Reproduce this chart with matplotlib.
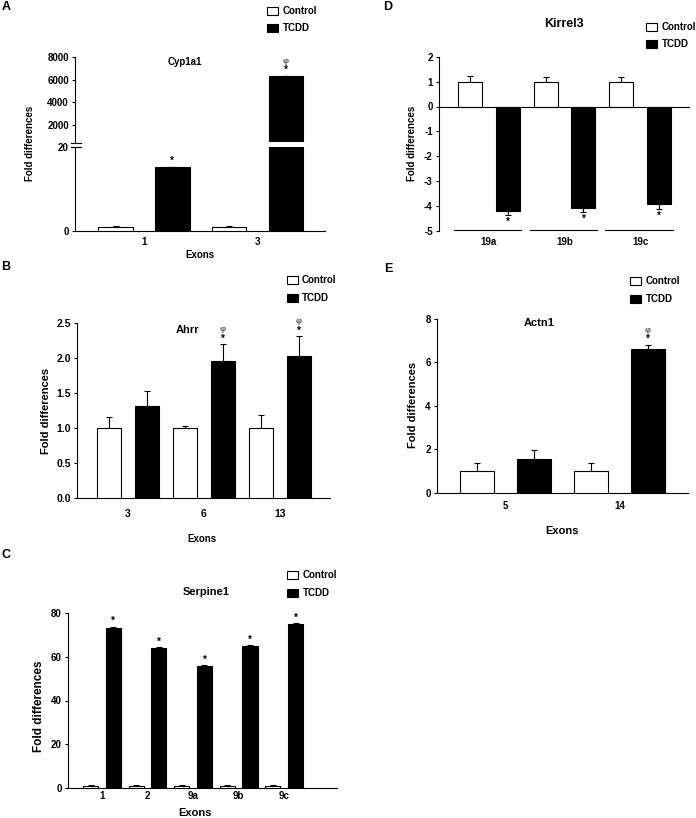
import matplotlib
matplotlib.use('Agg')
import matplotlib.pyplot as plt
from matplotlib.patches import Rectangle
from matplotlib.lines import Line2D
import numpy as np

plt.rcParams['font.family'] = ['Liberation Sans', 'DejaVu Sans']
plt.rcParams['font.weight'] = 'bold'

# ---------------- data ----------------
series = ['Control', 'TCDD']

cyp_exons = ['1', '3']
cyp_control = [1.0, 1.0]
cyp_control_err = [0.1, 0.1]
cyp_tcdd = [15.2, 6300.0]
cyp_tcdd_err = [0.15, 40.0]
cyp_marks = ['*', 'φ*']

ahrr_exons = ['3', '6', '13']
ahrr_control = [1.0, 1.0, 1.0]
ahrr_control_err = [0.16, 0.02, 0.18]
ahrr_tcdd = [1.31, 1.95, 2.02]
ahrr_tcdd_err = [0.21, 0.24, 0.29]
ahrr_marks = ['', 'φ*', 'φ*']

serp_exons = ['1', '2', '9a', '9b', '9c']
serp_control = [1.0, 1.0, 1.0, 1.0, 1.0]
serp_control_err = [0.3, 0.2, 0.2, 0.2, 0.2]
serp_tcdd = [73.2, 64.0, 55.8, 65.0, 75.0]
serp_tcdd_err = [0.6, 0.5, 0.5, 0.5, 0.4]
serp_marks = ['*', '*', '*', '*', '*']

kir_exons = ['19a', '19b', '19c']
kir_control = [1.0, 1.0, 1.0]
kir_control_err = [0.22, 0.17, 0.17]
kir_tcdd = [-4.2, -4.08, -3.92]
kir_tcdd_err = [0.15, 0.17, 0.18]
kir_marks = ['*', '*', '*']

actn_exons = ['5', '14']
actn_control = [1.0, 1.0]
actn_control_err = [0.37, 0.35]
actn_tcdd = [1.57, 6.63]
actn_tcdd_err = [0.4, 0.18]
actn_marks = ['', 'φ*']

# ---------------- layout helpers ----------------
W, H = 696, 818
fig = plt.figure(figsize=(6.96, 8.18), dpi=100)


def box(x0, y0, x1, y1):
    return [x0 / W, 1 - y1 / H, (x1 - x0) / W, (y1 - y0) / H]


def fx(x):
    return x / W


def fy(y):
    return 1 - y / H


def style_axes(ax, tick_fs, xpad):
    for s in ['top', 'right']:
        ax.spines[s].set_visible(False)
    for s in ['left', 'bottom']:
        ax.spines[s].set_linewidth(0.8)
    ax.tick_params(axis='y', direction='out', length=2.5, width=0.8,
                   labelsize=tick_fs, pad=2)
    ax.tick_params(axis='x', length=0, labelsize=tick_fs, pad=xpad)


def draw_bars(ax, ctrl, ctrl_err, tcdd, tcdd_err, width):
    n = len(ctrl)
    pos_c = np.arange(n) * 2.0
    pos_t = pos_c + 1.0
    ax.bar(pos_c, ctrl, width=width, color='white', edgecolor='black',
           linewidth=0.8, zorder=3)
    ax.bar(pos_t, tcdd, width=width, color='black', edgecolor='black',
           linewidth=0.8, zorder=3)
    for p, v, e in zip(list(pos_c) + list(pos_t), list(ctrl) + list(tcdd),
                       list(ctrl_err) + list(tcdd_err)):
        if v >= 0:
            yerr = [[0], [e]]
        else:
            yerr = [[e], [0]]
        ax.errorbar([p], [v], yerr=yerr, fmt='none', ecolor='black',
                    elinewidth=0.8, capsize=2.5, capthick=0.8, zorder=2)
    return pos_c, pos_t


def mark(ax, x, y, marks, down=False, fs=7, gap=1.5, step=6.5):
    if not marks:
        return
    if down:
        ax.annotate('*', xy=(x, y), xytext=(0, -gap - 3.5),
                    textcoords='offset points', ha='center', va='center',
                    fontsize=fs, annotation_clip=False)
        return
    k = 0
    for ch in reversed(marks):
        ax.annotate(ch, xy=(x, y), xytext=(0, gap + 2.5 + k * step),
                    textcoords='offset points', ha='center', va='center',
                    fontsize=fs if ch == '*' else fs - 1, color='black' if ch == '*' else '#555555',
                    annotation_clip=False)
        k += 1


def legend(xsq, ytop_c, ytop_t, xtext, fs=7, size=11):
    for yt, col, lab in [(ytop_c, 'white', 'Control'), (ytop_t, 'black', 'TCDD')]:
        fig.patches.append(Rectangle((fx(xsq), fy(yt + 8)), size / W, 8 / H,
                                     facecolor=col, edgecolor='black', linewidth=0.8,
                                     transform=fig.transFigure, figure=fig))
        fig.text(fx(xtext), fy(yt + 4), lab, fontsize=fs, ha='left', va='center')


def ylab(x, y, fs):
    fig.text(fx(x), fy(y), 'Fold differences', rotation=90, fontsize=fs,
             ha='center', va='center')


def xlab(x, y, fs):
    fig.text(fx(x), fy(y), 'Exons', fontsize=fs, ha='center', va='center')


# ---------------- Panel A : Cyp1a1 (broken axis) ----------------
axA_lo = fig.add_axes(box(75, 147, 325, 231))
axA_hi = fig.add_axes(box(75, 57, 325, 142))
for ax in (axA_lo, axA_hi):
    pc, pt = draw_bars(ax, cyp_control, cyp_control_err, cyp_tcdd, cyp_tcdd_err, 0.61)
    ax.set_xlim(-0.714, 3.69)
    style_axes(ax, 7, 4)
axA_lo.set_ylim(0, 20)
axA_lo.set_yticks([0, 20])
axA_lo.set_xticks(pc + 0.5)
axA_lo.set_xticklabels(cyp_exons)
axA_hi.set_ylim(500, 8000)
axA_hi.set_yticks([2000, 4000, 6000, 8000])
axA_hi.spines['bottom'].set_visible(False)
axA_hi.set_xticks([])
mark(axA_lo, pt[0], cyp_tcdd[0] + cyp_tcdd_err[0], '*')
mark(axA_hi, pt[1], cyp_tcdd[1] + cyp_tcdd_err[1], cyp_marks[1])
for yy in (142.5, 146.5):
    fig.lines.append(Line2D([fx(71), fx(81)], [fy(yy), fy(yy)], color='black',
                            linewidth=0.8, transform=fig.transFigure, figure=fig))
fig.text(fx(185), fy(62), 'Cyp1a1', fontsize=7, ha='center', va='center')
legend(267, 7, 24, 283, fs=7)
ylab(30, 143, 7)
xlab(200, 255, 7)
fig.text(fx(6), fy(7.5), 'A', fontsize=9, ha='center', va='center')

# ---------------- Panel B : Ahrr ----------------
axB = fig.add_axes(box(77, 322.7, 330, 497.7))
pc, pt = draw_bars(axB, ahrr_control, ahrr_control_err, ahrr_tcdd, ahrr_tcdd_err, 0.63)
axB.set_xlim(-0.84, 5.82)
axB.set_ylim(0, 2.5)
axB.set_yticks(np.arange(0, 2.51, 0.5))
axB.set_yticklabels(['%.1f' % v for v in np.arange(0, 2.51, 0.5)])
axB.set_xticks(pc + 0.5)
axB.set_xticklabels(ahrr_exons)
style_axes(axB, 7.5, 8)
for i in range(3):
    mark(axB, pt[i], ahrr_tcdd[i] + ahrr_tcdd_err[i], ahrr_marks[i])
fig.text(fx(188), fy(330), 'Ahrr', fontsize=8, ha='center', va='center')
legend(287, 276, 294, 302, fs=7)
ylab(46, 411, 8)
xlab(202, 539, 7)
fig.text(fx(6), fy(267), 'B', fontsize=9, ha='center', va='center')

# ---------------- Panel C : Serpine1 ----------------
axC = fig.add_axes(box(68, 613.3, 337, 787.7))
pc, pt = draw_bars(axC, serp_control, serp_control_err, serp_tcdd, serp_tcdd_err, 0.66)
axC.set_xlim(-0.99, 10.82)
axC.set_ylim(0, 80)
axC.set_yticks(np.arange(0, 81, 20))
axC.set_xticks(pc + 0.5)
axC.set_xticklabels(serp_exons)
style_axes(axC, 7, 2.5)
for i in range(5):
    mark(axC, pt[i], serp_tcdd[i] + serp_tcdd_err[i], serp_marks[i])
fig.text(fx(206), fy(592), 'Serpine1', fontsize=8, ha='center', va='center')
legend(287, 571, 589, 303, fs=7)
ylab(39, 706, 8.5)
xlab(195, 813, 8)
fig.text(fx(6), fy(555), 'C', fontsize=9, ha='center', va='center')

# ---------------- Panel D : Kirrel3 ----------------
axD = fig.add_axes(box(439, 56.7, 690, 231))
pc, pt = draw_bars(axD, kir_control, kir_control_err, kir_tcdd, kir_tcdd_err, 0.63)
axD.set_xlim(-0.82, 5.82)
axD.set_ylim(-5, 2)
axD.set_yticks(np.arange(-5, 2.1, 1))
axD.set_yticklabels(['%d' % v for v in np.arange(-5, 2.1, 1)])
axD.axhline(0, color='black', linewidth=0.8, zorder=4)
axD.set_xticks(pc + 0.5)
axD.set_xticklabels(kir_exons)
style_axes(axD, 7, 4)
axD.spines['bottom'].set_visible(False)
for i in range(3):
    axD.plot([pc[i] - 0.42, pc[i] + 1.36], [-4.97, -4.97], color='black',
             linewidth=0.8, clip_on=False)
    mark(axD, pt[i], kir_tcdd[i] - kir_tcdd_err[i], kir_marks[i], down=True)
fig.text(fx(564), fy(24), 'Kirrel3', fontsize=9, ha='center', va='center')
legend(646, 23, 40, 662, fs=7)
ylab(412, 143, 7)
fig.text(fx(388), fy(7), 'D', fontsize=9, ha='center', va='center')

# ---------------- Panel E : Actn1 ----------------
axE = fig.add_axes(box(437, 319, 688, 492.7))
pc, pt = draw_bars(axE, actn_control, actn_control_err, actn_tcdd, actn_tcdd_err, 0.6)
axE.set_xlim(-0.71, 3.7)
axE.set_ylim(0, 8)
axE.set_yticks(np.arange(0, 8.1, 2))
axE.set_xticks(pc + 0.5)
axE.set_xticklabels(actn_exons)
style_axes(axE, 7, 6)
for i in range(2):
    mark(axE, pt[i], actn_tcdd[i] + actn_tcdd_err[i], actn_marks[i])
fig.text(fx(539), fy(323), 'Actn1', fontsize=8, ha='center', va='center')
legend(630, 277, 295, 646, fs=7)
ylab(413, 405, 8)
xlab(562, 531, 8)
fig.text(fx(388), fy(269), 'E', fontsize=9, ha='center', va='center')

fig.savefig('out.png', dpi=100)
